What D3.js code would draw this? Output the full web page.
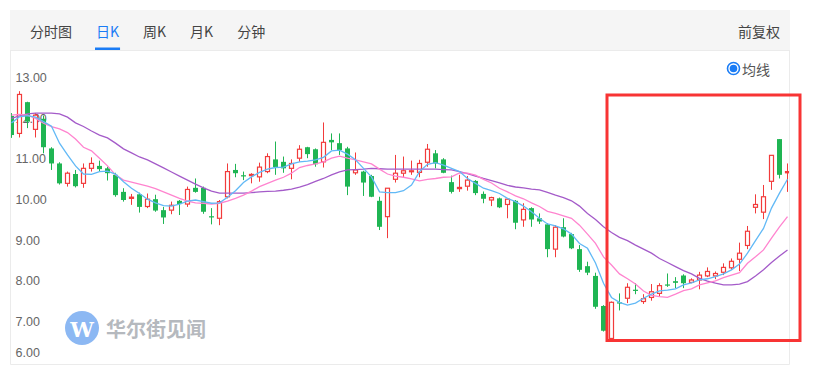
<!DOCTYPE html>
<html>
<head>
<meta charset="utf-8">
<script src="https://cdn.jsdelivr.net/npm/d3@7"></script>
<style>
    body { margin: 0; background: #fff; }
    svg { display: block; font-family: "Noto Sans CJK SC", "Noto Sans", sans-serif; }
</style>
</head>
<body>
<svg id="chart" width="840" height="368"></svg>
<script>
// 顶部标签
const tabs = ['分时图', '日K', '周K', '月K', '分钟']
const activeTab = '日K'
const yTicks = [6, 7, 8, 9, 10, 11, 12, 13]

// K线 (开/收/低/高)
const open = [12.07, 11.64, 12.41, 11.74, 12.00, 11.27, 10.90, 10.41, 10.64, 10.41,
    10.78, 10.84, 10.78, 10.62, 10.20, 10.04, 10.14, 9.84, 10.02, 9.75,
    9.75, 9.98, 9.90, 10.30, 10.30, 9.60, 9.55, 10.08, 10.74, 10.61,
    10.60, 10.57, 10.70, 11.00, 10.94, 10.78, 11.03, 11.30, 11.25, 10.94,
    11.48, 11.40, 11.27, 10.67, 10.70, 10.59, 9.98, 9.59, 10.51, 10.66,
    10.70, 10.68, 10.93, 11.15, 11.00, 10.44, 10.28, 10.34, 10.47, 10.15,
    10.00, 10.04, 9.89, 9.98, 9.51, 9.80, 9.55, 9.40, 8.79, 9.33,
    9.16, 8.79, 8.37, 8.13, 7.39, 6.59, 7.48, 7.58, 7.79, 7.50,
    7.60, 7.70, 7.92, 8.00, 8.14, 7.97, 8.03, 8.13, 8.13, 8.22,
    8.33, 8.54, 8.88, 9.82, 9.70, 10.46, 11.50, 10.67]
const close = [11.60, 12.60, 11.93, 12.09, 11.30, 10.90, 10.41, 10.66, 10.34, 10.78,
    10.90, 10.76, 10.66, 10.12, 10.00, 10.07, 9.83, 10.02, 9.74, 9.57,
    9.87, 9.90, 10.26, 10.20, 9.71, 9.57, 9.96, 10.70, 10.66, 10.58,
    10.63, 10.81, 11.07, 10.81, 10.78, 10.90, 11.25, 11.13, 10.88, 11.42,
    11.42, 11.23, 10.33, 10.74, 10.43, 10.08, 9.34, 10.29, 10.66, 10.72,
    10.72, 10.90, 11.25, 10.90, 10.67, 10.20, 10.31, 10.49, 10.17, 10.03,
    10.06, 9.82, 10.02, 9.44, 9.77, 9.52, 9.47, 8.79, 9.33, 9.10,
    8.81, 8.28, 8.21, 7.37, 6.78, 7.48, 7.45, 7.85, 7.76, 7.57,
    7.74, 7.89, 7.89, 7.96, 7.95, 8.03, 8.15, 8.24, 8.19, 8.34,
    8.49, 8.69, 9.23, 9.89, 10.08, 11.10, 10.62, 10.70]
const low = [11.53, 11.54, 11.77, 11.54, 11.15, 10.74, 10.38, 10.33, 10.31, 10.30,
    10.70, 10.71, 10.48, 10.08, 9.96, 9.88, 9.69, 9.80, 9.71, 9.41,
    9.65, 9.63, 9.83, 10.18, 9.66, 9.40, 9.38, 10.04, 10.56, 10.49,
    10.41, 10.45, 10.66, 10.62, 10.67, 10.51, 10.94, 11.03, 10.82, 10.80,
    11.23, 11.11, 10.12, 10.62, 10.10, 10.07, 9.26, 9.06, 10.43, 10.56,
    10.62, 10.56, 10.82, 10.78, 10.66, 10.16, 10.20, 10.23, 10.12, 9.92,
    9.85, 9.80, 9.55, 9.28, 9.34, 9.34, 9.41, 8.59, 8.59, 9.08,
    8.79, 8.23, 8.15, 7.32, 6.76, 6.55, 7.28, 7.46, 7.68, 7.44,
    7.52, 7.62, 7.86, 7.83, 7.83, 7.95, 7.80, 8.10, 8.05, 8.15,
    8.28, 8.25, 8.79, 9.67, 9.53, 10.25, 10.53, 10.20]
const high = [12.14, 12.68, 12.42, 12.14, 12.08, 11.30, 10.93, 10.70, 10.74, 10.90,
    11.05, 10.97, 10.82, 10.67, 10.29, 10.15, 10.18, 10.16, 10.13, 9.83,
    9.96, 10.00, 10.33, 10.53, 10.33, 9.80, 10.00, 10.90, 10.89, 10.70,
    10.66, 10.92, 11.15, 11.44, 11.07, 11.00, 11.35, 11.31, 11.27, 11.91,
    11.64, 11.64, 11.31, 11.17, 10.72, 10.62, 10.08, 10.29, 11.11, 11.07,
    10.97, 10.99, 11.38, 11.23, 11.03, 10.60, 10.62, 10.59, 10.49, 10.21,
    10.08, 10.06, 10.04, 10.00, 9.92, 9.82, 9.67, 9.43, 9.38, 9.55,
    9.19, 8.89, 8.48, 8.21, 7.41, 7.50, 7.70, 7.95, 7.95, 7.68,
    7.93, 7.95, 8.19, 8.10, 8.17, 8.07, 8.23, 8.34, 8.24, 8.44,
    8.56, 8.95, 9.36, 10.14, 10.37, 11.10, 11.50, 10.90]

// 均线
const ma5 = [11.90, 12.05, 12.08, 12.04, 11.93, 11.82, 11.40, 11.11, 10.84, 10.64,
    10.63, 10.70, 10.71, 10.64, 10.45, 10.29, 10.16, 10.02, 9.93, 9.86,
    9.85, 9.90, 9.97, 10.00, 9.96, 9.92, 9.93, 10.07, 10.23, 10.43,
    10.57, 10.68, 10.76, 10.80, 10.81, 10.89, 10.94, 10.96, 10.99, 11.05,
    11.21, 11.23, 11.13, 10.99, 10.78, 10.57, 10.20, 10.18, 10.18, 10.23,
    10.37, 10.70, 10.88, 10.92, 10.86, 10.78, 10.70, 10.53, 10.41, 10.29,
    10.23, 10.16, 10.04, 9.96, 9.85, 9.71, 9.55, 9.41, 9.36, 9.29,
    9.16, 8.93, 8.81, 8.45, 7.95, 7.60, 7.48, 7.41, 7.46, 7.58,
    7.68, 7.76, 7.78, 7.81, 7.91, 7.96, 8.03, 8.06, 8.11, 8.18,
    8.28, 8.42, 8.69, 9.00, 9.30, 9.80, 10.17, 10.51]
const ma10 = [12.09, 12.11, 12.09, 12.01, 11.89, 11.81, 11.75, 11.66, 11.50, 11.30,
    11.21, 11.03, 10.84, 10.62, 10.49, 10.44, 10.39, 10.34, 10.28, 10.20,
    10.12, 10.04, 9.97, 9.93, 9.92, 9.90, 9.92, 9.97, 10.04, 10.12,
    10.22, 10.33, 10.41, 10.49, 10.56, 10.66, 10.80, 10.85, 10.89, 10.94,
    11.03, 11.08, 11.03, 10.99, 10.94, 10.89, 10.76, 10.64, 10.59, 10.56,
    10.52, 10.47, 10.51, 10.53, 10.56, 10.57, 10.67, 10.66, 10.61, 10.51,
    10.42, 10.29, 10.20, 10.10, 10.03, 9.93, 9.84, 9.72, 9.67, 9.61,
    9.55, 9.38, 9.16, 8.93, 8.60, 8.40, 8.18, 8.06, 7.93, 7.76,
    7.65, 7.62, 7.60, 7.68, 7.77, 7.81, 7.91, 7.96, 8.01, 8.09,
    8.15, 8.21, 8.44, 8.60, 8.77, 9.06, 9.34, 9.59]
const ma20 = [12.01, 12.07, 12.12, 12.14, 12.14, 12.14, 12.12, 12.04, 11.90, 11.81,
    11.70, 11.60, 11.53, 11.40, 11.26, 11.16, 11.06, 10.99, 10.89, 10.79,
    10.69, 10.59, 10.49, 10.39, 10.30, 10.22, 10.17, 10.17, 10.17, 10.17,
    10.18, 10.20, 10.21, 10.22, 10.24, 10.27, 10.32, 10.38, 10.46, 10.53,
    10.62, 10.69, 10.74, 10.75, 10.76, 10.78, 10.77, 10.76, 10.76, 10.76,
    10.76, 10.76, 10.76, 10.76, 10.75, 10.74, 10.70, 10.65, 10.59, 10.53,
    10.48, 10.42, 10.36, 10.32, 10.30, 10.27, 10.25, 10.19, 10.12, 10.06,
    9.98, 9.85, 9.67, 9.52, 9.34, 9.20, 9.08, 9.00, 8.89, 8.79,
    8.69, 8.56, 8.46, 8.36, 8.26, 8.18, 8.07, 8.00, 7.95, 7.91,
    7.91, 7.93, 7.99, 8.13, 8.28, 8.46, 8.62, 8.77]

const RED = '#f23b3b'
const GREEN = '#1fb553'

const svg = d3.select('#chart')
const W = 840, H = 368
const panel = {left: 10, right: 790, top: 10, head: 50, bottom: 364}

// 面板
svg.append('rect').attr('width', W).attr('height', H).attr('fill', '#fff')
svg.append('rect')
    .attr('x', panel.left).attr('y', panel.top)
    .attr('width', panel.right - panel.left).attr('height', panel.head - panel.top)
    .attr('fill', '#f5f5f5')
svg.append('path')
    .attr('d', `M${panel.left + .5},${panel.head}V${panel.bottom + .5}H${panel.right - .5}V${panel.head}M${panel.left},${panel.head + .5}H${panel.right}`)
    .attr('fill', 'none').attr('stroke', '#ebebeb')

// 标签栏
let tx = 30
tabs.forEach(t => {
    const text = svg.append('text')
        .attr('x', tx).attr('y', 31)
        .attr('dominant-baseline', 'central')
        .attr('font-size', 14)
        .attr('fill', t == activeTab ? '#1a7cf5' : '#444')
        .text(t)
    const w = text.node().getComputedTextLength()
    if (t == activeTab) {
        svg.append('rect')
            .attr('x', tx - 1).attr('y', panel.head - 2.5)
            .attr('width', w + 2).attr('height', 2.5)
            .attr('fill', '#1a7cf5')
    }
    tx += w + 24
})
svg.append('text')
    .attr('x', 780).attr('y', 31)
    .attr('text-anchor', 'end').attr('dominant-baseline', 'central')
    .attr('font-size', 14).attr('fill', '#444')
    .text('前复权')

// 图例
svg.append('circle').attr('cx', 733.5).attr('cy', 68.5).attr('r', 6)
    .attr('fill', '#fff').attr('stroke', '#1a7cf5').attr('stroke-width', 1.6)
svg.append('circle').attr('cx', 733.5).attr('cy', 68.5).attr('r', 3.8).attr('fill', '#1a7cf5')
svg.append('text')
    .attr('x', 742).attr('y', 68.5)
    .attr('dominant-baseline', 'central')
    .attr('font-size', 14).attr('fill', '#555')
    .text('均线')

// 水印
const mark = svg.append('g').attr('transform', 'translate(82,328)')
mark.append('circle').attr('r', 17).attr('fill', '#8cb8f3')
mark.append('text')
    .attr('text-anchor', 'middle').attr('dominant-baseline', 'central')
    .attr('y', 1)
    .attr('font-family', '"DejaVu Serif", serif').attr('font-weight', 'bold')
    .attr('font-size', 21).attr('fill', '#fff')
    .text('W')
mark.append('text')
    .attr('x', 24).attr('dominant-baseline', 'central')
    .attr('font-size', 20).attr('font-weight', 'bold')
    .attr('fill', '#b5b9be').attr('letter-spacing', 0)
    .text('华尔街见闻')

// 比例尺
const x = d3.scaleLinear().domain([0, open.length - 1]).range([11.5, 787.5])
const y = d3.scaleLinear().domain([6, 13]).range([362.4, 78.2])
const plotBottom = 358

// 纵轴标签 (在K线下面)
svg.append('g')
    .selectAll('text')
    .data(yTicks)
    .enter()
    .append('text')
        .attr('x', 15.5)
        .attr('y', d => Math.min(y(d), plotBottom - 5))
        .attr('dominant-baseline', 'central')
        .attr('font-family', '"Liberation Sans", Arial, sans-serif')
        .attr('font-size', 12.5)
        .attr('fill', '#666')
        .text(d => d.toFixed(2))

svg.append('clipPath').attr('id', 'plot')
    .append('rect').attr('x', 11).attr('y', 55).attr('width', 778).attr('height', plotBottom - 55)

const plot = svg.append('g').attr('clip-path', 'url(#plot)')

const data = open.map((o, i) => ({i, o, c: close[i], l: low[i], h: high[i]}))

const candles = plot.selectAll('g.candle')
    .data(data)
    .enter()
    .append('g')
        .attr('class', 'candle')

candles.each(function (d) {
    const g = d3.select(this)
    const cx = x(d.i)
    const top = y(Math.max(d.o, d.c))
    const bottom = Math.max(y(Math.min(d.o, d.c)), top + 1)
    if (d.c >= d.o) {
        g.append('line').attr('x1', cx).attr('x2', cx).attr('y1', y(d.h)).attr('y2', top)
            .attr('stroke', RED)
        g.append('line').attr('x1', cx).attr('x2', cx).attr('y1', bottom).attr('y2', y(d.l))
            .attr('stroke', RED)
        g.append('rect')
            .attr('x', cx - 2).attr('y', top)
            .attr('width', 4).attr('height', bottom - top)
            .attr('fill', '#fff').attr('stroke', RED).attr('stroke-width', 1.2)
    } else {
        g.append('line').attr('x1', cx).attr('x2', cx).attr('y1', y(d.h)).attr('y2', y(d.l))
            .attr('stroke', GREEN)
        g.append('rect')
            .attr('x', cx - 2.5).attr('y', top)
            .attr('width', 5).attr('height', bottom - top)
            .attr('fill', GREEN)
    }
})

const line = d3.line()
    .x((d, i) => x(i))
    .y(d => y(d))

const maSeries = [
    {values: ma20, color: '#a45bc9'},
    {values: ma10, color: '#ff84cf'},
    {values: ma5, color: '#62b9f6'}
]

plot.selectAll('path.ma')
    .data(maSeries)
    .enter()
    .append('path')
        .attr('class', 'ma')
        .attr('d', d => line(d.values))
        .attr('fill', 'none')
        .attr('stroke', d => d.color)
        .attr('stroke-width', 1.3)

// 红框标注
svg.append('rect')
    .attr('x', 607).attr('y', 95)
    .attr('width', 193).attr('height', 245.5)
    .attr('fill', 'none')
    .attr('stroke', '#f83434').attr('stroke-width', 3)
</script>
</body>
</html>
